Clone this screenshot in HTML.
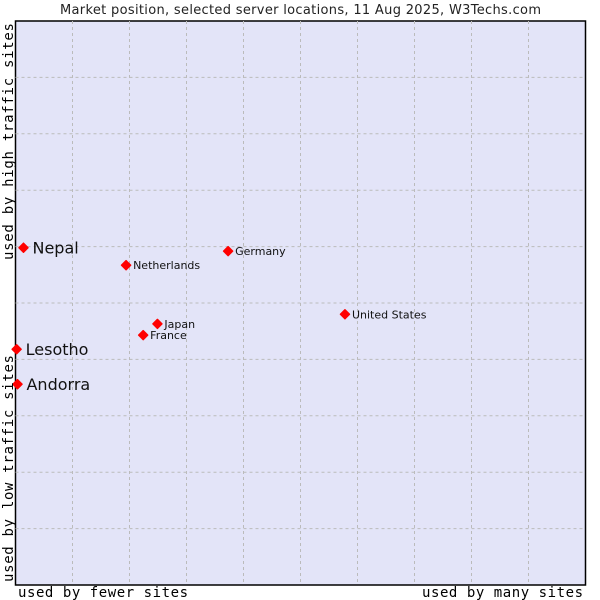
<!DOCTYPE html>
<html><head><meta charset="utf-8"><style>
body{margin:0;background:#fff;}
svg{display:block;font-family:"DejaVu Sans","Liberation Sans",sans-serif;}
</style></head><body>
<svg id="chart" width="600" height="600">
<text x="60" y="14" textLength="481" font-size="13" fill="#222">Market position, selected server locations, 11 Aug 2025, W3Techs.com</text>
<rect x="15.5" y="21" width="570" height="564" fill="#e3e4f8" stroke="#000" stroke-width="1.5"/>
<g id="grid"></g>
<g id="points"></g>
<text x="18" y="597" textLength="170" font-family="'DejaVu Sans Mono','Liberation Mono',monospace" font-size="14" fill="#000">used by fewer sites</text>
<text x="422" y="597" textLength="161" font-family="'DejaVu Sans Mono','Liberation Mono',monospace" font-size="14" fill="#000">used by many sites</text>
<text transform="translate(13,582) rotate(-90)" textLength="227" font-family="'DejaVu Sans Mono','Liberation Mono',monospace" font-size="14" fill="#000">used by low traffic sites</text>
<text transform="translate(13,260) rotate(-90)" textLength="237" font-family="'DejaVu Sans Mono','Liberation Mono',monospace" font-size="14" fill="#000">used by high traffic sites</text>
</svg>
<script>
const names = ["Nepal","Netherlands","Germany","United States","Japan","France","Lesotho","Andorra"];
const xValues = [1.4,19.4,37.3,57.8,24.9,22.4,0.2,0.35];
const yValues = [59.8,56.7,59.2,48.0,46.3,44.3,41.8,35.6];
const highlighted = [true,false,false,false,false,false,true,true];
const NS="http://www.w3.org/2000/svg";
const X0=15.5,X1=585.5,Y0=585,Y1=21;
const sx=v=>X0+(X1-X0)*v/100, sy=v=>Y0-(Y0-Y1)*v/100;
const grid=document.getElementById('grid');
for(let i=1;i<10;i++){
  const v=document.createElementNS(NS,'line');
  v.setAttribute('x1',sx(i*10));v.setAttribute('x2',sx(i*10));v.setAttribute('y1',Y1);v.setAttribute('y2',Y0);
  v.setAttribute('stroke','#bbb');v.setAttribute('stroke-dasharray','3,3');
  
  
  grid.appendChild(v);
  const h=document.createElementNS(NS,'line');
  h.setAttribute('y1',sy(i*10));h.setAttribute('y2',sy(i*10));h.setAttribute('x1',X0);h.setAttribute('x2',X1);
  h.setAttribute('stroke','#bbb');h.setAttribute('stroke-dasharray','3,3');
  
  
  grid.appendChild(h);
}
const pts=document.getElementById('points');
names.forEach((n,i)=>{
  const x=sx(xValues[i]),y=sy(yValues[i]);
  const d=document.createElementNS(NS,'path');
  d.setAttribute('d',`M${x-4.5},${y} L${x},${y-4.5} L${x+4.5},${y} L${x},${y+4.5} Z`);
  d.setAttribute('fill','#f00');d.setAttribute('stroke','#f00');d.setAttribute('stroke-width','1.5');d.setAttribute('stroke-linejoin','round');
  
  
  pts.appendChild(d);
  const t=document.createElementNS(NS,'text');
  const big=highlighted[i];
  t.setAttribute('x',x+(big?9:7));t.setAttribute('y',y+(big?6:4));
  t.setAttribute('font-size',big?16:11);t.setAttribute('fill','#111');
  t.textContent=n;
  
  
  pts.appendChild(t);
});
</script>
</body></html>
